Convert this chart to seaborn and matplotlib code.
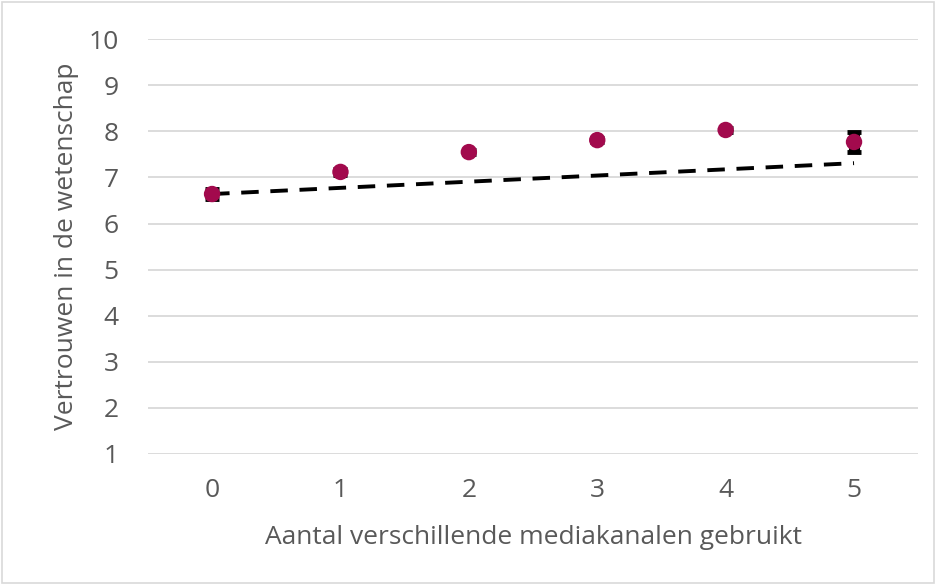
import matplotlib
matplotlib.use("Agg")
import matplotlib.pyplot as plt
import seaborn as sns
import pandas as pd

# Data
kanalen = [0, 1, 2, 3, 4, 5]
vertrouwen = [6.64, 7.12, 7.55, 7.81, 8.03, 7.77]
fout = [0.11, 0.07, 0.05, 0.05, 0.05, 0.22]
trend_x = [0, 5]
trend_y = [6.64, 7.31]
y_ticks = [1, 2, 3, 4, 5, 6, 7, 8, 9, 10]

df = pd.DataFrame({"x": kanalen, "y": vertrouwen})
tr = pd.DataFrame({"x": trend_x, "y": trend_y})

sns.set_theme(style="white")
plt.rcParams["font.family"] = ["Open Sans", "DejaVu Sans"]

fig = plt.figure(figsize=(9.36, 5.85), dpi=100)
ax = fig.add_axes([0.158, 0.224, 0.823, 0.709])

grey = "#595959"
for yv in y_ticks:
    ax.axhline(yv, color="#D9D9D9", lw=1.3, zorder=0)

sns.lineplot(data=tr, x="x", y="y", ax=ax, color="black", lw=2.8,
             linestyle=(0, (4.5, 3)), zorder=2)
ax.errorbar(kanalen, vertrouwen, yerr=fout, fmt="none", ecolor="black",
            elinewidth=8, capsize=4.8, capthick=3.5, zorder=3)
sns.scatterplot(data=df, x="x", y="y", ax=ax, color="#A20A4D", s=140,
                edgecolor="none", zorder=4)

ax.set_xlim(-0.5, 5.5)
ax.set_ylim(1, 10)
ax.set_xticks(kanalen)
ax.set_yticks(y_ticks)
ax.tick_params(axis="y", labelsize=19, colors=grey, length=0, pad=21)
ax.tick_params(axis="x", labelsize=19, colors=grey, length=0, pad=17)
ax.set_xlabel("Aantal verschillende mediakanalen gebruikt", fontsize=19,
              color=grey, labelpad=16)
ax.set_ylabel("Vertrouwen in de wetenschap", fontsize=19, color=grey,
              labelpad=7)
for s in ax.spines.values():
    s.set_visible(False)

fig.patches.append(plt.Rectangle((0.002, 0.003), 0.996, 0.994,
                                 transform=fig.transFigure, fill=False,
                                 edgecolor="#D9D9D9", lw=1.2))
fig.savefig("out.png", dpi=100)
